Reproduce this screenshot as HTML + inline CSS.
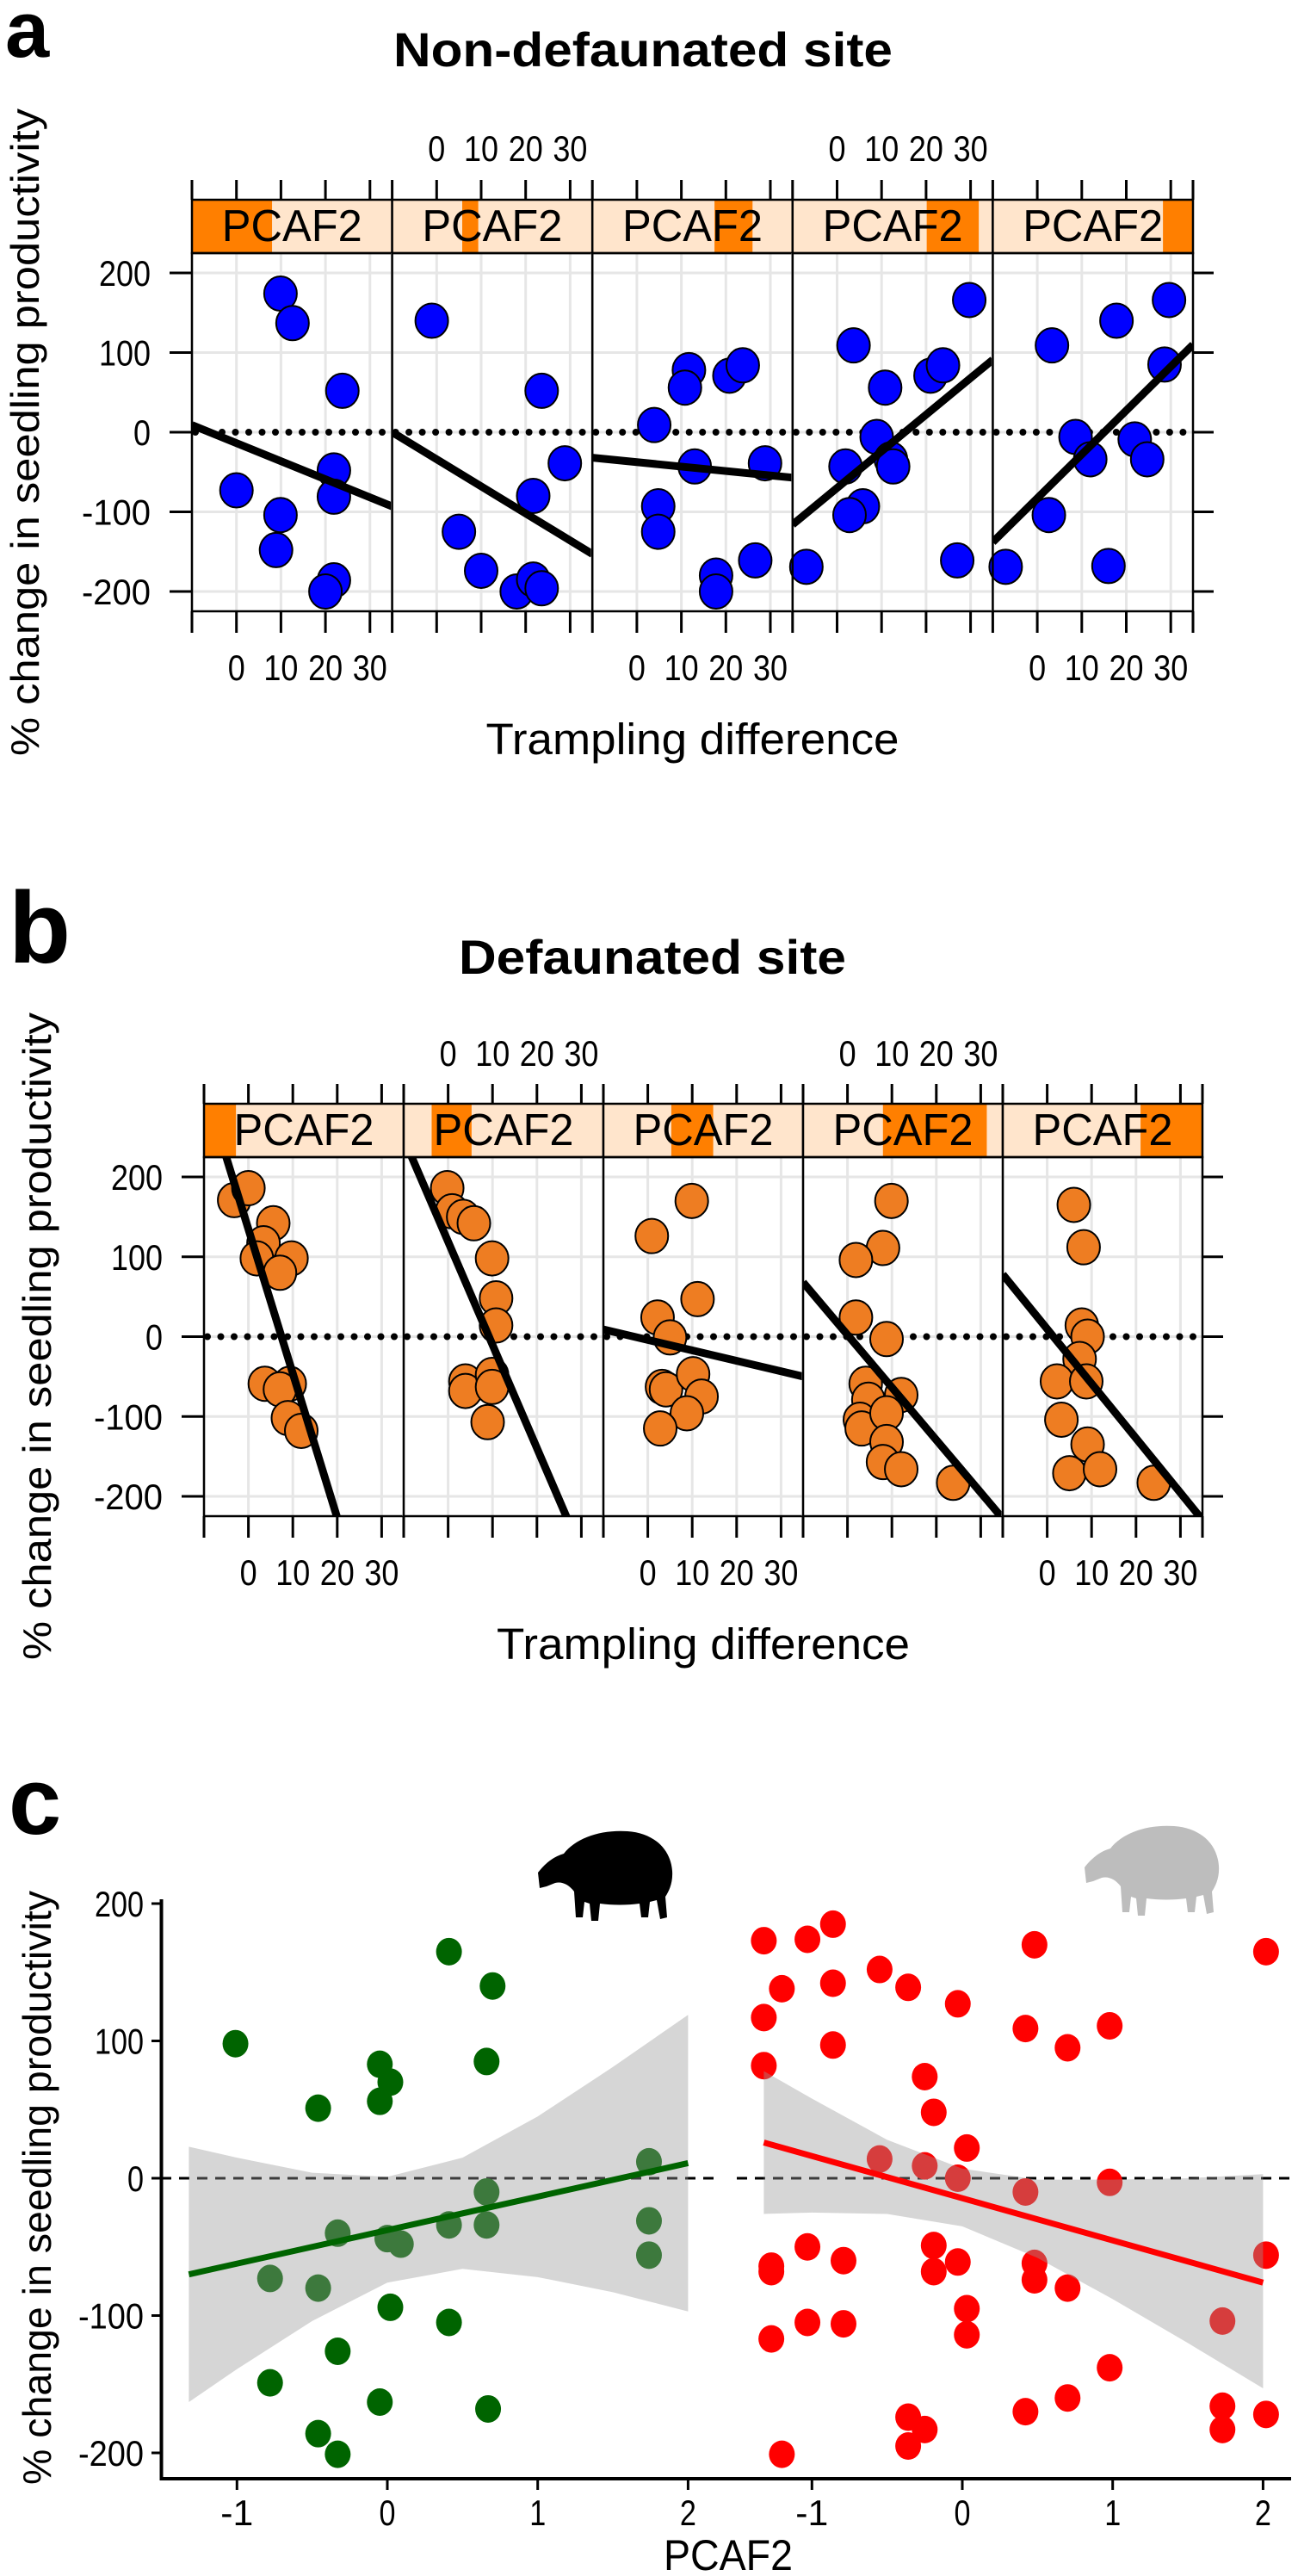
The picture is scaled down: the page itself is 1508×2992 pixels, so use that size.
<!DOCTYPE html>
<html><head><meta charset="utf-8">
<style>
html,body{margin:0;padding:0;background:#fff;}
svg{display:block;}
text{font-family:"Liberation Sans",Arial,sans-serif;fill:#000;}
</style></head>
<body>
<svg id="fig" width="1508" height="2992" viewBox="0 0 1508 2992" xmlns="http://www.w3.org/2000/svg">
<text x="6" y="66" font-size="92" font-weight="bold">a</text>
<text x="747" y="77" font-size="56" font-weight="bold" text-anchor="middle" textLength="580" lengthAdjust="spacingAndGlyphs">Non-defaunated site</text>
<text x="10" y="1118" font-size="118" font-weight="bold">b</text>
<text x="758" y="1131" font-size="56" font-weight="bold" text-anchor="middle" textLength="450" lengthAdjust="spacingAndGlyphs">Defaunated site</text>
<text x="10" y="2130" font-size="110" font-weight="bold">c</text>
<g id="gA"></g>
<g id="gB"></g>
<g id="gC"></g>
</svg>
<script>
// ---------- Panel a data (trampling difference vs % change), 5 PCAF2 levels ----------
const aPtsX = [
 [9.9,12.6,23.8,0,9.9,8.9,21.9,21.9,21.9,20],
 [-1.1,23.6,5,10,18,21.7,23.6,21.7,28.8],
 [3.9,4.8,4.8,11.7,10.8,13,20.8,23.8,17.8,17.8,26.6,28.8],
 [-6.9,3.7,10.8,8.9,1.9,5.8,2.8,12.1,12.6,21,23.8,29.7,27],
 [-7.1,3.3,8.6,11.9,2.6,17.8,16,21.9,24.7,28.6,29.6]
];
const aPtsY = [
 [174,137,52,-73,-104,-148,-48,-81,-186,-200],
 [140,52,-125,-174,-200,-185,-196,-80,-39],
 [9,-93,-125,78,56,-43,71,84,-180,-200,-161,-39],
 [-169,109,56,-6,-43,-93,-104,-34,-43,71,84,166,-161],
 [-169,109,-6,-34,-104,140,-168,-9,-34,85,166]
];
const aLineIntercept = [-13.7,-34,-37.6,-70,-82.9];
const aLineSlope = [-2.27,-3.4,-0.556,4.6,5.51];
const aStripFrom = [0,0.35,0.61,0.67,0.85];
const aStripTo = [0.40,0.43,0.80,0.93,1.0];

// ---------- Panel b data ----------
const bPtsX = [
 [-3.2,0,5.6,3.4,1.9,9.7,7.1,3.7,9.3,7.1,8.9,11.9],
 [-0.2,0.9,3.4,5.8,9.9,10.8,10.8,3.9,3.9,9.9,9.9,8.9],
 [0.9,9.9,11.2,2.2,5,3.2,4.1,10.2,12.1,8.8,2.8],
 [9.9,8,1.9,1.9,8.8,4.1,4.7,12.1,2.8,3.2,8.8,8.8,8,12.1,23.8],
 [6,8.2,7.8,9.1,7.3,2.2,8.8,3.2,9.1,5,11.9,24]
];
const bPtsY = [
 [171,186,142,117,98,98,80,-59,-59,-66,-102,-118],
 [186,157,150,142,98,48,14,-56,-68,-48,-63,-107],
 [126,170,47,24,-1,-63,-66,-47,-75,-96,-115],
 [170,111,96,24,-3,-59,-79,-73,-104,-115,-96,-132,-157,-166,-183],
 [165,112,14,0,-28,-56,-56,-104,-135,-171,-166,-183]
];
const bLineIntercept = [134.6,119,-4.1,2.2,9.6];
const bLineSlope = [-18.07,-12.93,-1.31,-6.58,-6.84];
const bStripFrom = [0,0.14,0.34,0.40,0.69];
const bStripTo = [0.16,0.34,0.55,0.92,1.0];

const trampTicks = [-10,0,10,20,30];
const trampLabels = ["0","10","20","30"];
const prodTicks = [200,100,0,-100,-200];

// ---------- Panel c data ----------
const cGreenX = [-1.01,0.41,0.70,0.66,-0.05,0.02,-0.05,-0.46,1.74,0.66,-0.33,0.0,0.09,0.41,0.66,1.74,1.74,-0.78,-0.46,0.02,0.41,-0.33,-0.78,-0.05,0.67,-0.46,-0.33];
const cGreenY = [98,165,140,85,83,70,56,51,12,-10,-40,-44,-48,-34,-34,-31,-56,-73,-80,-94,-105,-126,-149,-163,-168,-186,-201];
const cRedX = [-1.32,-1.03,-0.86,-1.20,-0.86,-1.32,-0.86,-1.32,-0.55,-0.36,-0.03,-0.25,-0.19,0.03,-0.55,-0.25,-0.03,0.48,0.42,0.70,0.98,2.02,0.42,0.98,2.02,-1.27,-1.27,-1.03,-0.79,-0.19,-0.19,-0.03,0.48,0.48,0.70,0.03,0.03,-1.27,-1.03,-0.79,1.73,0.98,0.70,0.42,-0.36,-0.25,-0.36,-1.20,1.73,1.73,2.02];
const cRedY = [173,174,185,138,142,117,97,82,152,139,127,74,48,22,14,9,0,170,109,95,111,165,-10,-3,-56,-64,-68,-50,-60,-49,-68,-61,-62,-74,-80,-95,-114,-117,-105,-106,-104,-138,-160,-170,-174,-183,-195,-201,-166,-183,-172];
const cGreenFit = [-70,11];
const cRedFit = [26,-76];
const cFitEndsX = [-1.32,2.0];
const cRibbonX = [-1.32,-1,-0.5,0,0.5,1,1.5,2];
const cGreenUpper = [23,15,4,1,15,45,81,119];
const cGreenLower = [-163,-139,-104,-76,-66,-72,-83,-97];
const cRedUpper = [78,58,28,7,-1,-1,0,3];
const cRedLower = [-26,-25,-26,-35,-58,-88,-120,-153];
const cXTicks = [-1,0,1,2];
const cYTicks = [200,100,0,-100,-200];

const NS = "http://www.w3.org/2000/svg";
function mk(tag, attrs, parent){
  const e = document.createElementNS(NS, tag);
  for (const k in attrs) e.setAttribute(k, attrs[k]);
  parent.appendChild(e);
  return e;
}

function lattice(g, cfg, ptsX, ptsY, lInt, lSlope, sFrom, sTo, fill, prefix){
  const {x0, pw, stripTop, plotTop, plotBot, yZero, yu, xu, ylabX, yLabTop, yLabBot, labelTopY, labelBotY, xlabY} = cfg;
  const xs = (i,v) => x0 + i*pw + (v+10)*xu;
  const ys = v => yZero - v*yu;
  const right = x0 + 5*pw;
  const defs = mk('defs', {}, g);
  for (let i=0;i<5;i++){
    const cp = mk('clipPath', {id: prefix+'clip'+i}, defs);
    mk('rect', {x: x0+i*pw, y: plotTop, width: pw, height: plotBot-plotTop}, cp);
  }
  for (let i=0;i<5;i++){
    const pg = mk('g', {}, g);
    
    
    const L = x0+i*pw;
    for (const t of trampTicks){
      const gl = mk('line', {x1: xs(i,t), x2: xs(i,t), y1: plotTop, y2: plotBot, stroke:'#e6e6e6', 'stroke-width':3}, pg);
      
      
    }
    for (const t of prodTicks){
      const gl = mk('line', {x1: L, x2: L+pw, y1: ys(t), y2: ys(t), stroke:'#e6e6e6', 'stroke-width':3}, pg);
      
      
    }
    const zl = mk('line', {x1: L+4, x2: L+pw, y1: ys(0), y2: ys(0), stroke:'#000', 'stroke-width':8, 'stroke-linecap':'round', 'stroke-dasharray':'0 15.5'}, pg);
    
    
    for (let k=0;k<ptsX[i].length;k++){
      const c = mk('ellipse', {cx: xs(i,ptsX[i][k]), cy: ys(ptsY[i][k]), rx: 19, ry: 20, fill: fill, stroke:'#000', 'stroke-width':2}, pg);
      
      
    }
    const xa=-10, xb=35;
    const rl = mk('line', {x1: xs(i,xa), y1: ys(lInt[i]+lSlope[i]*xa), x2: xs(i,xb), y2: ys(lInt[i]+lSlope[i]*xb), stroke:'#000', 'stroke-width':9, 'clip-path':'url(#'+prefix+'clip'+i+')'}, pg);
    
    
    const st = mk('rect', {x: L, y: stripTop, width: pw, height: plotTop-stripTop, fill:'#ffe5cc'}, pg);
    
    
    const so = mk('rect', {x: L+sFrom[i]*pw, y: stripTop, width: (sTo[i]-sFrom[i])*pw, height: plotTop-stripTop, fill:'#ff7f00'}, pg);
    
    
    mk('rect', {x: L, y: stripTop, width: pw, height: plotTop-stripTop, fill:'none', stroke:'#000', 'stroke-width':2.5}, pg);
    const stt = mk('text', {x: L+pw/2, y: plotTop-14, 'font-size':52, 'text-anchor':'middle', textLength: 163, lengthAdjust:'spacingAndGlyphs'}, pg);
    stt.textContent = 'PCAF2';
    
    
    mk('rect', {x: L, y: plotTop, width: pw, height: plotBot-plotTop, fill:'none', stroke:'#000', 'stroke-width':2.5}, pg);
    for (const t of trampTicks){
      mk('line', {x1: xs(i,t), x2: xs(i,t), y1: stripTop-23, y2: stripTop, stroke:'#000', 'stroke-width':3}, pg);
      mk('line', {x1: xs(i,t), x2: xs(i,t), y1: plotBot, y2: plotBot+25, stroke:'#000', 'stroke-width':3}, pg);
    }
    const onTop = (i%2===1);
    for (let k=0;k<trampLabels.length;k++){
      const tl = mk('text', {x: xs(i,trampTicks[k+1]), y: onTop?labelTopY:labelBotY, 'font-size':42, 'text-anchor':'middle', textLength: trampLabels[k].length*20, lengthAdjust:'spacingAndGlyphs'}, pg);
      tl.textContent = trampLabels[k];
      
      
    }
  }
  mk('line', {x1: right, x2: right, y1: stripTop-23, y2: stripTop, stroke:'#000', 'stroke-width':3}, g);
  mk('line', {x1: right, x2: right, y1: plotBot, y2: plotBot+25, stroke:'#000', 'stroke-width':3}, g);
  for (const t of prodTicks){
    mk('line', {x1: x0-26, x2: x0, y1: ys(t), y2: ys(t), stroke:'#000', 'stroke-width':3}, g);
    mk('line', {x1: right, x2: right+24, y1: ys(t), y2: ys(t), stroke:'#000', 'stroke-width':3}, g);
    const tl = mk('text', {x: x0-48, y: ys(t)+15, 'font-size':42, 'text-anchor':'end', textLength: String(t).length*20, lengthAdjust:'spacingAndGlyphs'}, g);
    tl.textContent = String(t);
    
    
  }
  const yl = mk('text', {x: 0, y: 0, 'font-size':46, 'text-anchor':'middle', transform:'translate('+(ylabX)+','+((yLabTop+yLabBot)/2)+') rotate(-90)', textLength: yLabBot-yLabTop, lengthAdjust:'spacingAndGlyphs'}, g);
  yl.textContent = '% change in seedling productivity';
  
  
  const xl = mk('text', {x: x0+2.5*pw, y: xlabY, 'font-size':51, 'text-anchor':'middle', textLength: 480, lengthAdjust:'spacingAndGlyphs'}, g);
  xl.textContent = 'Trampling difference';
  
  
}

lattice(document.getElementById('gA'),
  {x0:223, pw:232.6, stripTop:232, plotTop:294, plotBot:710, yZero:502, yu:0.925, xu:5.17, ylabX:45, yLabTop:126, yLabBot:878, labelTopY:187, labelBotY:790, xlabY:876},
  aPtsX, aPtsY, aLineIntercept, aLineSlope, aStripFrom, aStripTo, '#0000ff', 'a');
lattice(document.getElementById('gB'),
  {x0:237, pw:232, stripTop:1282, plotTop:1344, plotBot:1761, yZero:1552.5, yu:0.9275, xu:5.16, ylabX:59, yLabTop:1176, yLabBot:1928, labelTopY:1238, labelBotY:1841, xlabY:1927},
  bPtsX, bPtsY, bLineIntercept, bLineSlope, bStripFrom, bStripTo, '#ee7d22', 'b');

(function(){
  const g = document.getElementById('gC');
  const yZ = 2530, yU = 1.595, xU = 174.7;
  const ys = v => yZ - v*yU;
  const sub = [
    {zero:450, left:187, right:832, X:cGreenX, Y:cGreenY, fit:cGreenFit, up:cGreenUpper, lo:cGreenLower, col:'#006400', name:'tapir-present'},
    {zero:1118, left:856, right:1500, X:cRedX, Y:cRedY, fit:cRedFit, up:cRedUpper, lo:cRedLower, col:'#ff0000', name:'tapir-absent'}
  ];
  for (const s of sub){
    const xs = v => s.zero + v*xU;
    const sg = mk('g', {}, g);
    
    
    const dl = mk('line', {x1: s.left, x2: s.right, y1: ys(0), y2: ys(0), stroke:'#000', 'stroke-width':3, 'stroke-dasharray':'12 9'}, sg);
    
    
    for (let k=0;k<s.X.length;k++){
      const p = mk('ellipse', {cx: xs(s.X[k]), cy: ys(s.Y[k]), rx: 15, ry: 16, fill: s.col}, sg);
      
      
    }
    let d = '';
    for (let k=0;k<cRibbonX.length;k++) d += (k?'L':'M') + xs(cRibbonX[k]) + ',' + ys(s.up[k]);
    for (let k=cRibbonX.length-1;k>=0;k--) d += 'L' + xs(cRibbonX[k]) + ',' + ys(s.lo[k]);
    const rb = mk('path', {d: d+'Z', fill:'#999', 'fill-opacity':0.4}, sg);
    
    
    const fl = mk('line', {x1: xs(cFitEndsX[0]), y1: ys(s.fit[0]), x2: xs(cFitEndsX[1]), y2: ys(s.fit[1]), stroke: s.col, 'stroke-width':7}, sg);
    
    
    const ax = mk('line', {x1: s.left, x2: s.right+(s.left===187?33:0), y1: 2879, y2: 2879, stroke:'#000', 'stroke-width':4}, sg);
    
    
    for (const t of cXTicks){
      mk('line', {x1: xs(t), x2: xs(t), y1: 2879, y2: 2892, stroke:'#000', 'stroke-width':3}, sg);
      const tl = mk('text', {x: xs(t), y: 2933, 'font-size':42, 'text-anchor':'middle', textLength: String(t).length*19, lengthAdjust:'spacingAndGlyphs'}, sg);
      tl.textContent = String(t);
      
      
    }
  }
  const yax = mk('line', {x1: 187.5, x2: 187.5, y1: 2206, y2: 2881, stroke:'#000', 'stroke-width':4}, g);
  
  
  for (const t of cYTicks){
    mk('line', {x1: 176, x2: 187, y1: ys(t), y2: ys(t), stroke:'#000', 'stroke-width':3}, g);
    const tl = mk('text', {x: 167, y: ys(t)+15, 'font-size':42, 'text-anchor':'end', textLength: String(t).length*19, lengthAdjust:'spacingAndGlyphs'}, g);
    tl.textContent = String(t);
    
    
  }
  const yl = mk('text', {x:0, y:0, 'font-size':46, 'text-anchor':'middle', transform:'translate(59,2541) rotate(-90)', textLength: 690, lengthAdjust:'spacingAndGlyphs'}, g);
  yl.textContent = '% change in seedling productivity';
  
  
  const xl = mk('text', {x: 846, y: 2985, 'font-size':50, 'text-anchor':'middle', textLength: 150, lengthAdjust:'spacingAndGlyphs'}, g);
  xl.textContent = 'PCAF2';
  
  
  const tap = 'M0,52 C6,44 16,34 30,30 C44,12 72,2 104,4 C134,6 154,24 156,50 C157,64 152,74 148,80 L150,104 L142,106 L138,84 L130,86 L128,104 L120,104 L118,88 C104,90 86,90 72,88 L70,108 L62,108 L60,88 L54,86 L52,104 L44,104 L42,74 C36,66 28,62 20,64 L10,68 L2,70 Z';
  const t1 = mk('path', {d: tap, transform:'translate(625,2123)', fill:'#000'}, g);
  
  
  const t2 = mk('path', {d: tap, transform:'translate(1260,2117)', fill:'#bdbdbd'}, g);
  
  
})();
</script>
</body></html>
